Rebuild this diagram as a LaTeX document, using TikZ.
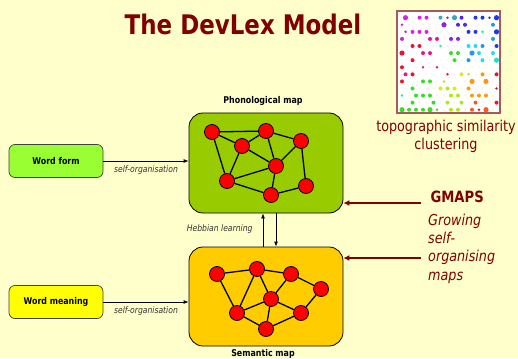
\documentclass[tikz,border=0pt]{standalone}
\usepackage{fontspec}
\setmainfont{DejaVu Sans}[FakeStretch=0.85]
\usetikzlibrary{arrows.meta}

\definecolor{bgyel}{HTML}{FFFFCC}
\definecolor{maroon}{HTML}{800000}
\definecolor{phongreen}{HTML}{99CC00}
\definecolor{semgold}{HTML}{FFCC00}
\definecolor{formgreen}{HTML}{99FF33}
\definecolor{meanyel}{HTML}{FFFF00}
\definecolor{framebrown}{HTML}{A65A5A}
% colours of the topographic map cells
\definecolor{dmag}{HTML}{E020E0}
\definecolor{dmp}{HTML}{C025E0}
\definecolor{dpur}{HTML}{8F22E0}
\definecolor{dbp}{HTML}{5522EE}
\definecolor{dblu}{HTML}{2235EE}
\definecolor{dsky}{HTML}{2299F0}
\definecolor{dcyn}{HTML}{22DDEE}
\definecolor{dteal}{HTML}{3AA8B0}
\definecolor{dtc}{HTML}{22DDCC}
\definecolor{dtg}{HTML}{22EE99}
\definecolor{dred}{HTML}{EE1133}
\definecolor{dpink}{HTML}{EE1199}
\definecolor{dgrn}{HTML}{33E022}
\definecolor{dyg}{HTML}{AAEE11}
\definecolor{dyel}{HTML}{DDEE00}
\definecolor{dorg}{HTML}{FF9A00}
\definecolor{dor}{HTML}{FF5522}

\tikzset{
  mapbox/.style={draw=black, line width=0.8pt, rounded corners=14pt,
    minimum width=154pt, inner sep=0pt},
  inbox/.style={draw=black!75, line width=0.7pt, rounded corners=6pt,
    minimum width=94pt, minimum height=33pt, inner sep=0pt,
    font=\fontsize{9.3}{11}\selectfont\bfseries},
  mapnode/.style={circle, fill=red, draw=black, line width=0.8pt,
    minimum size=15pt, inner sep=0pt},
  link/.style={line width=1.3pt},
  flow/.style={line width=0.8pt, -{Latex[length=5pt,width=4pt]}},
  gmarrow/.style={maroon, line width=1.8pt, -{Latex[length=6pt,width=6pt]}},
  smalllabel/.style={font=\fontsize{9}{11}\selectfont\itshape, text=black!80},
  maptitle/.style={font=\fontsize{9.3}{11}\selectfont\bfseries}
}

\begin{document}
\begin{tikzpicture}[x=1pt, y=-1pt]
\useasboundingbox (0,0) rectangle (518,358);
\fill[bgyel] (0,0) rectangle (518,358);

% title
\node[text=maroon, font=\fontsize{27}{30}\selectfont\bfseries] (title) at (243,24) {The DevLex Model};

% topographic map picture
\node[draw=framebrown, line width=1.4pt, fill=white, minimum width=103pt,
  minimum height=102pt, inner sep=0pt] (topo) at (448.5,62) {};
\foreach \r in {0,...,13}{
  \pgfmathsetmacro{\xo}{402+3.5*(1-mod(\r,2))}
  \foreach \j in {0,...,13}{
    \fill[black!6] (\xo+7*\j, 17.7+7.08*\r) circle (0.8pt);
  }
}
\foreach \k/\r/\c/\s in {
  1/0/dmag/2.6, 5/0/dmag/2.0, 7/0/dmag/2.0, 11/0/dteal/2.0, 13/0/dpur/1.4,
  15/0/dteal/2.6, 17/0/dbp/2.0, 21/0/dblu/2.0, 23/0/dblu/2.0, 25/0/dblu/1.4, 27/0/dblu/2.6,
  0/1/dmp/1.4, 12/1/dpur/2.6, 16/1/dbp/2.0, 18/1/dbp/2.0, 26/1/dsky/2.0,
  1/2/dmp/1.4, 3/2/dmag/2.0, 5/2/dmag/2.0, 7/2/dmag/2.0, 19/2/dblu/2.0, 21/2/dblu/2.0,
  23/2/dtg/1.4, 27/2/dblu/2.6,
  0/3/dmp/2.0, 8/3/dpink/2.0, 10/3/dpink/2.0, 14/3/dpur/2.0, 16/3/dpur/2.0, 26/3/dsky/2.0,
  3/4/dred/2.0, 5/4/dred/2.0, 11/4/dtg/1.4, 19/4/dcyn/2.0, 21/4/dcyn/2.0, 23/4/dsky/2.0,
  27/4/dblu/2.0,
  0/5/dred/2.6, 6/5/dpink/2.0, 8/5/dpink/2.0, 14/5/dgrn/2.0, 16/5/dgrn/2.0, 20/5/dsky/2.6,
  22/5/dcyn/2.0, 26/5/dcyn/2.0,
  3/6/dred/2.0, 15/6/dgrn/2.0, 19/6/dsky/2.0, 23/6/dcyn/2.0, 27/6/dtc/2.6,
  0/7/dred/2.0, 6/7/dpink/1.4, 10/7/dpink/1.4,
  1/8/dpink/2.0, 3/8/dred/2.0, 13/8/dred/1.4, 17/8/dyel/2.0, 19/8/dyg/1.4, 23/8/dorg/2.0,
  27/8/dred/2.0,
  0/9/dred/2.0, 6/9/dgrn/2.0, 8/9/dgrn/2.0, 12/9/dyg/1.4, 20/9/dorg/2.6, 24/9/dorg/2.6,
  3/10/dgrn/2.0, 11/10/dyel/2.0, 13/10/dyg/2.0, 15/10/dyel/2.0, 19/10/dorg/2.0, 27/10/dred/1.4,
  0/11/dtg/1.4, 4/11/dgrn/2.0, 6/11/dgrn/2.0, 8/11/dgrn/2.0, 14/11/dyg/2.0, 16/11/dyg/2.0,
  20/11/dorg/2.0, 22/11/dorg/2.0, 24/11/dorg/2.0,
  3/12/dgrn/2.0, 9/12/dgrn/2.0, 13/12/dyg/2.0, 17/12/dyg/2.0, 21/12/dor/2.0, 27/12/dred/2.0,
  0/13/dgrn/2.6, 2/13/dgrn/2.0, 4/13/dgrn/2.0, 6/13/dgrn/2.0, 8/13/dgrn/2.6, 10/13/dgrn/1.4,
  14/13/dyg/2.0, 16/13/dyg/2.0, 20/13/dor/2.0, 22/13/dred/1.4, 24/13/dor/2.6}{
  \fill[\c] (402+3.5*\k, 17.7+7.08*\r) circle (\s pt);
}
\node[text=maroon, font=\fontsize{15}{18}\selectfont, align=center] (topocap) at (446,136)
  {topographic similarity\\clustering};

% the two maps
\node[mapbox, fill=phongreen, minimum height=100pt] (phon) at (266,163) {};
\node[mapbox, fill=semgold, minimum height=99pt] (sem) at (266,296.5) {};
\node[maptitle] (phonlab) at (263,101) {Phonological map};
\node[maptitle] (semlab) at (263,354) {Semantic map};

% phonological map lattice
\node[mapnode] (p1) at (212,132) {};
\node[mapnode] (p2) at (266,131) {};
\node[mapnode] (p3) at (242,146) {};
\node[mapnode] (p4) at (301,141) {};
\node[mapnode] (p5) at (276,166) {};
\node[mapnode] (p6) at (227,181) {};
\node[mapnode] (p7) at (306,186) {};
\node[mapnode] (p8) at (271,195) {};
\draw[link] (p1) -- (p2) (p1) -- (p3) (p1) -- (p6) (p3) -- (p2) (p3) -- (p5)
  (p3) -- (p6) (p2) -- (p5) (p2) -- (p4) (p4) -- (p5) (p4) -- (p7)
  (p5) -- (p6) (p5) -- (p8) (p6) -- (p8) (p8) -- (p7);

% semantic map lattice
\node[mapnode] (s1) at (217,274) {};
\node[mapnode] (s2) at (257,269) {};
\node[mapnode] (s3) at (291,274) {};
\node[mapnode] (s4) at (321,289) {};
\node[mapnode] (s5) at (271,299) {};
\node[mapnode] (s6) at (237,313) {};
\node[mapnode] (s7) at (301,313) {};
\node[mapnode] (s8) at (266,329) {};
\draw[link] (s1) -- (s2) (s1) -- (s6) (s2) -- (s6) (s2) -- (s5) (s2) -- (s3)
  (s3) -- (s5) (s3) -- (s4) (s4) -- (s7) (s5) -- (s6) (s5) -- (s7)
  (s5) -- (s8) (s6) -- (s8) (s8) -- (s7);

% inputs
\node[inbox, fill=formgreen] (form) at (56,161) {Word form};
\node[inbox, fill=meanyel] (mean) at (56,302) {Word meaning};
\draw[flow] (form.east) -- (form.east -| phon.west)
  node[midway, below=1pt, smalllabel] (so1) {self-organisation};
\draw[flow] (mean.east) -- (mean.east -| sem.west)
  node[midway, below=1pt, smalllabel] (so2) {self-organisation};

% Hebbian links between the maps
\coordinate (hup) at (263,0);
\coordinate (hdn) at (276,0);
\draw[flow] (hup |- sem.north) -- (hup |- phon.south);
\draw[flow] (hdn |- phon.south) -- (hdn |- sem.north);
\node[smalllabel, anchor=east] (heb) at (256,229) {Hebbian learning};

% GMAPS annotation
\node[text=maroon, font=\fontsize{15.5}{18}\selectfont\bfseries, anchor=west] (gm) at (427,197) {GMAPS};
\node[text=maroon, font=\fontsize{15}{18.2}\selectfont\itshape, anchor=north west, align=left,
  inner sep=0pt] (gmtext) at (428,214) {Growing\\self-\\organising\\maps};
\coordinate (g1) at (421,203);
\coordinate (g2) at (421,258);
\draw[gmarrow] (g1) -- (g1 -| phon.east);
\draw[gmarrow] (g2) -- (g2 -| sem.east);
\end{tikzpicture}
\end{document}
